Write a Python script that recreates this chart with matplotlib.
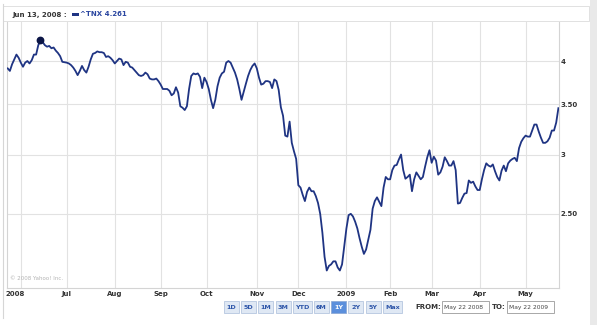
import numpy as np
import pandas as pd
import matplotlib
matplotlib.use("Agg")
import matplotlib.pyplot as plt
import matplotlib.transforms as mtransforms
from matplotlib.patches import Rectangle
from matplotlib.lines import Line2D
from matplotlib.ticker import NullLocator

W, H, DPI = 597, 325, 100

# ---- data -------------------------------------------------------------
symbol = "^TNX"
start_date = "2008-05-22"
end_date = "2009-05-22"
market_holidays = ["2008-05-26", "2008-07-04", "2008-09-01", "2008-11-27",
                   "2008-12-25", "2009-01-01", "2009-01-19", "2009-02-16",
                   "2009-04-10"]
marker_date = "2008-06-13"

# daily close of the 10-year Treasury yield index, one value per session
yields = [
    3.91, 3.88, 3.96, 4.02, 4.08, 4.04, 3.98, 3.93, 3.98, 4.00,
    3.97, 4.01, 4.08, 4.08, 4.20, 4.261, 4.24, 4.20, 4.18, 4.19,
    4.16, 4.17, 4.13, 4.10, 4.06, 3.99, 3.985, 3.98, 3.97, 3.95,
    3.92, 3.88, 3.83, 3.88, 3.94, 3.89, 3.86, 3.93, 4.02, 4.09,
    4.10, 4.12, 4.11, 4.11, 4.10, 4.05, 4.06, 4.04, 4.01, 3.97,
    4.00, 4.03, 4.02, 3.95, 3.99, 3.98, 3.93, 3.92, 3.89, 3.86,
    3.83, 3.82, 3.83, 3.86, 3.84, 3.79, 3.78, 3.78, 3.79, 3.76,
    3.72, 3.67, 3.67, 3.67, 3.65, 3.60, 3.62, 3.69, 3.63, 3.48,
    3.465, 3.44, 3.48, 3.67, 3.82, 3.85, 3.84, 3.85, 3.81, 3.68,
    3.80, 3.75, 3.67, 3.55, 3.46, 3.55, 3.70, 3.80, 3.85, 3.87,
    3.98, 4.00, 3.98, 3.92, 3.86, 3.78, 3.67, 3.55, 3.64, 3.73,
    3.82, 3.89, 3.94, 3.97, 3.91, 3.80, 3.72, 3.73, 3.76, 3.76,
    3.75, 3.68, 3.78, 3.76, 3.66, 3.47, 3.38, 3.18, 3.17, 3.32,
    3.11, 3.03, 2.96, 2.73, 2.71, 2.65, 2.60, 2.675, 2.71, 2.68,
    2.68, 2.64, 2.585, 2.50, 2.36, 2.19, 2.10, 2.13, 2.14, 2.16,
    2.16, 2.12, 2.10, 2.14, 2.26, 2.39, 2.49, 2.50, 2.48, 2.44,
    2.39, 2.32, 2.26, 2.21, 2.24, 2.31, 2.38, 2.54, 2.60, 2.63,
    2.595, 2.56, 2.71, 2.80, 2.78, 2.78, 2.86, 2.90, 2.905, 2.955,
    3.00, 2.86, 2.785, 2.80, 2.82, 2.68, 2.78, 2.84, 2.81, 2.78,
    2.80, 2.89, 2.975, 3.04, 2.925, 2.98, 2.945, 2.82, 2.84, 2.89,
    2.975, 2.94, 2.90, 2.90, 2.94, 2.86, 2.58, 2.585, 2.625, 2.66,
    2.665, 2.77, 2.75, 2.76, 2.72, 2.69, 2.69, 2.78, 2.86, 2.92,
    2.90, 2.89, 2.91, 2.85, 2.80, 2.77, 2.855, 2.90, 2.85, 2.92,
    2.945, 2.96, 2.97, 2.94, 3.06, 3.12, 3.155, 3.18, 3.17, 3.17,
    3.23, 3.29, 3.29, 3.22, 3.16, 3.11, 3.11, 3.125, 3.16, 3.23,
    3.23, 3.31, 3.46,
]

month_labels = ["2008", "Jul", "Aug", "Sep", "Oct", "Nov", "Dec",
                "2009", "Feb", "Mar", "Apr", "May"]
ytick_values = [2.5, 3.0, 3.5, 4.0]
ytick_labels = ["2.50", "3", "3.50", "4"]
range_buttons = ["1D", "5D", "1M", "3M", "YTD", "6M", "1Y", "2Y", "5Y", "Max"]
active_range = "1Y"
copyright_text = "\u00a9 2008 Yahoo! Inc."

# ---- derived series ---------------------------------------------------
dates = pd.bdate_range(start_date, end_date, freq="C", holidays=market_holidays)
values = np.asarray(yields, dtype=float)
assert len(dates) == len(values)
pos = np.arange(len(dates))
month_starts = [i for i in range(1, len(dates)) if dates[i].month != dates[i - 1].month]
k = dates.get_loc(pd.Timestamp(marker_date))

# ---- figure -----------------------------------------------------------
LINE = "#1f3483"
GRID = "#e2e2e2"
TXT = "#333333"

fig = plt.figure(figsize=(W / DPI, H / DPI), dpi=DPI, facecolor="white")


def frac(x, y):
    return x / W, 1 - y / H


def box(x0, y0, x1, y1, **kw):
    fx, fy = frac(x0, y1)
    r = Rectangle((fx, fy), (x1 - x0) / W, (y1 - y0) / H,
                  transform=fig.transFigure, **kw)
    fig.patches.append(r)
    return r


def ftext(x, y, s, **kw):
    fx, fy = frac(x, y)
    return fig.text(fx, fy, s, **kw)


# outer panel chrome
box(590, 0, 597, 325, facecolor="#e9e9e9", edgecolor="none")
fig.lines.append(Line2D([2.5 / W, 2.5 / W], [1 - 4 / H, 1 - 318 / H],
                        transform=fig.transFigure, color="#d6d6d6", lw=0.8))
box(3, 6, 589, 21, facecolor="white", edgecolor="#dcdcdc", lw=0.6)

# plot area
l, r, t, b = 7, 558.5, 22, 288
ax = fig.add_axes([l / W, 1 - b / H, (r - l) / W, (b - t) / H])
ax.set_yscale("log")
ax.plot(pos, values, color=LINE, lw=1.3, solid_joinstyle="round", zorder=3)
ax.plot(pos[k], values[k], "o", ms=4.6, color="#0b1546", zorder=4)

ax.set_xlim(-0.32, len(dates) - 1 + 0.05)
ax.set_ylim(1.99, 4.51)

ax.yaxis.tick_right()
ax.set_yticks(ytick_values)
ax.set_yticklabels(ytick_labels)
ax.yaxis.set_minor_locator(NullLocator())
ax.set_xticks(month_starts)
ax.set_xticklabels(month_labels)
ax.tick_params(axis="both", length=0, labelsize=5, labelcolor=TXT)
ax.tick_params(axis="y", pad=1.5)
ax.tick_params(axis="x", pad=2.5)
for lab in ax.get_xticklabels() + ax.get_yticklabels():
    lab.set_fontweight("bold")
first = ax.get_xticklabels()[0]
first.set_transform(first.get_transform() +
                    mtransforms.ScaledTranslation(-6 / DPI, 0, fig.dpi_scale_trans))

ax.grid(True, color=GRID, lw=0.8)
ax.set_axisbelow(True)
for side, sp in ax.spines.items():
    sp.set_color("#d4d4d4")
    sp.set_linewidth(0.8)
ax.spines["top"].set_visible(False)

ax.text(0.006, 0.025, copyright_text, transform=ax.transAxes,
        fontsize=4, color="#b4b4b4", ha="left", va="bottom")

# header with the highlighted session
ftext(12, 14.5, f"{dates[k]:%b %d, %Y} :", fontsize=5, fontweight="bold",
      color=TXT, va="center", ha="left")
box(71.5, 13.3, 78.5, 16.0, facecolor=LINE, edgecolor="none")
ftext(80, 14.5, f"{symbol} {values[k]:.3f}", fontsize=5, fontweight="bold",
      color="#2a46a0", va="center", ha="left")

# range selector buttons
bx = 224.0
for name in range_buttons:
    w = 15.0 if len(name) <= 2 else 19.0
    active = name == active_range
    box(bx, 301, bx + w, 313,
        facecolor="#5b8fdc" if active else "#dfe8f4",
        edgecolor="#8eaad6" if active else "#b5c6df", lw=0.6)
    ftext(bx + w / 2, 307.2, name, fontsize=4.6, fontweight="bold",
          color="white" if active else "#2d55a8", ha="center", va="center")
    bx += w + 2.2

# date range boxes
ftext(415, 307.2, "FROM:", fontsize=5, fontweight="bold", color=TXT,
      ha="left", va="center")
box(442, 301, 489, 313, facecolor="white", edgecolor="#9a9a9a", lw=0.6)
ftext(444, 307.4, f"{dates[0]:%b %d %Y}", fontsize=4.3, color="#444444",
      ha="left", va="center")
ftext(492, 307.2, "TO:", fontsize=5, fontweight="bold", color=TXT,
      ha="left", va="center")
box(507, 301, 554, 313, facecolor="white", edgecolor="#9a9a9a", lw=0.6)
ftext(509, 307.4, f"{dates[-1]:%b %d %Y}", fontsize=4.3, color="#444444",
      ha="left", va="center")

fig.savefig("out.png", dpi=DPI, facecolor="white")
